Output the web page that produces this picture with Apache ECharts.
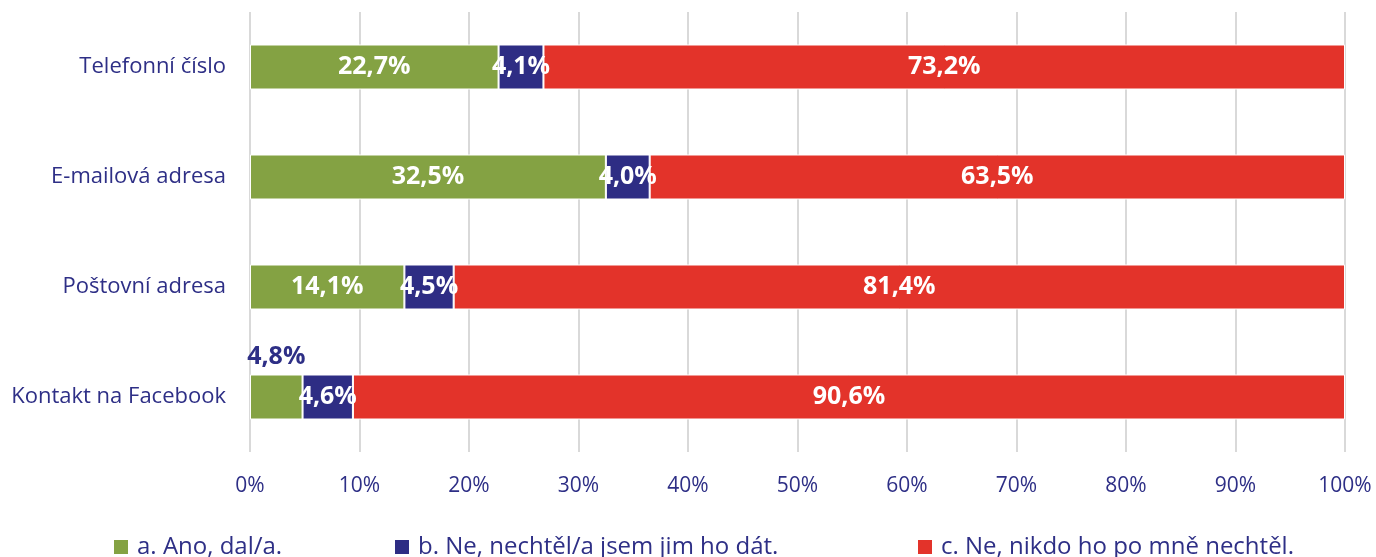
<!DOCTYPE html>
<html>
<head>
<meta charset="utf-8">
<script src="https://cdn.jsdelivr.net/npm/echarts@6/dist/echarts.min.js"></script>
<style>
  html, body { margin: 0; padding: 0; background: #fff; }
  #chart { width: 1376px; height: 557px; }
</style>
</head>
<body>
<div id="chart"></div>
<script>
// categories (top to bottom)
const categories = ["Telefonní číslo", "E-mailová adresa", "Poštovní adresa", "Kontakt na Facebook"];
const seriesNames = ["a. Ano, dal/a.", "b. Ne, nechtěl/a jsem jim ho dát.", "c. Ne, nikdo ho po mně nechtěl."];
const ano = [22.7, 32.5, 14.1, 4.8];
const nechtel = [4.1, 4.0, 4.5, 4.6];
const nikdo = [73.2, 63.5, 81.4, 90.6];
const xTicks = [0, 10, 20, 30, 40, 50, 60, 70, 80, 90, 100];

const navy = "#2e2f86";
const colors = ["#84a243", "#2e2d84", "#e3332a"];
const font = "Open Sans";

function pct(v) {
  return v.toFixed(1).replace(".", ",") + "%";
}

const labelStyle = {
  show: true,
  position: "inside",
  color: "#fff",
  fontFamily: font,
  fontWeight: "bold",
  fontSize: 25,
  formatter: (p) => pct(p.value),
};

// the small green value on the last row sits above the bar
const anoData = ano.map((v, i) => {
  if (i === 3) {
    return {
      value: v,
      label: { position: "top", distance: 5, color: navy },
    };
  }
  return v;
});

const chart = echarts.init(document.getElementById("chart"));

function makeSeries(name, data, idx) {
  return {
    name: name,
    type: "bar",
    stack: "total",
    barWidth: 45,
    data: data,
    itemStyle: { color: colors[idx], borderColor: "#fff", borderWidth: 1 },
    label: labelStyle,
  };
}

const legendBase = {
  top: 530,
  itemWidth: 16,
  itemHeight: 16,
  itemGap: 6,
  icon: "rect",
  textStyle: { color: navy, fontFamily: font, fontSize: 24, padding: [0, 0, 0, 3] },
};

const option = {
  animation: false,
  textStyle: { fontFamily: font },
  grid: { left: 250, right: 31, top: 12, bottom: 105 },
  legend: [
    Object.assign({ left: 107, data: [seriesNames[0]] }, legendBase),
    Object.assign({ left: 388, data: [seriesNames[1]] }, legendBase),
    Object.assign({ left: 911, data: [seriesNames[2]] }, legendBase),
  ],
  xAxis: {
    type: "value",
    min: xTicks[0],
    max: xTicks[xTicks.length - 1],
    interval: 10,
    axisLine: { show: false },
    axisTick: { show: false },
    splitLine: { lineStyle: { color: "#d9d9d9", width: 2 } },
    axisLabel: {
      color: navy,
      fontSize: 21,
      fontFamily: font,
      margin: 24,
      formatter: (v) => v + "%",
    },
  },
  yAxis: {
    type: "category",
    data: categories,
    inverse: true,
    axisLine: { show: false },
    axisTick: { show: false },
    axisLabel: { color: navy, fontSize: 22, fontFamily: font, margin: 24 },
  },
  series: [
    makeSeries(seriesNames[0], anoData, 0),
    makeSeries(seriesNames[1], nechtel, 1),
    makeSeries(seriesNames[2], nikdo, 2),
  ],
};

chart.setOption(option);
</script>
</body>
</html>
